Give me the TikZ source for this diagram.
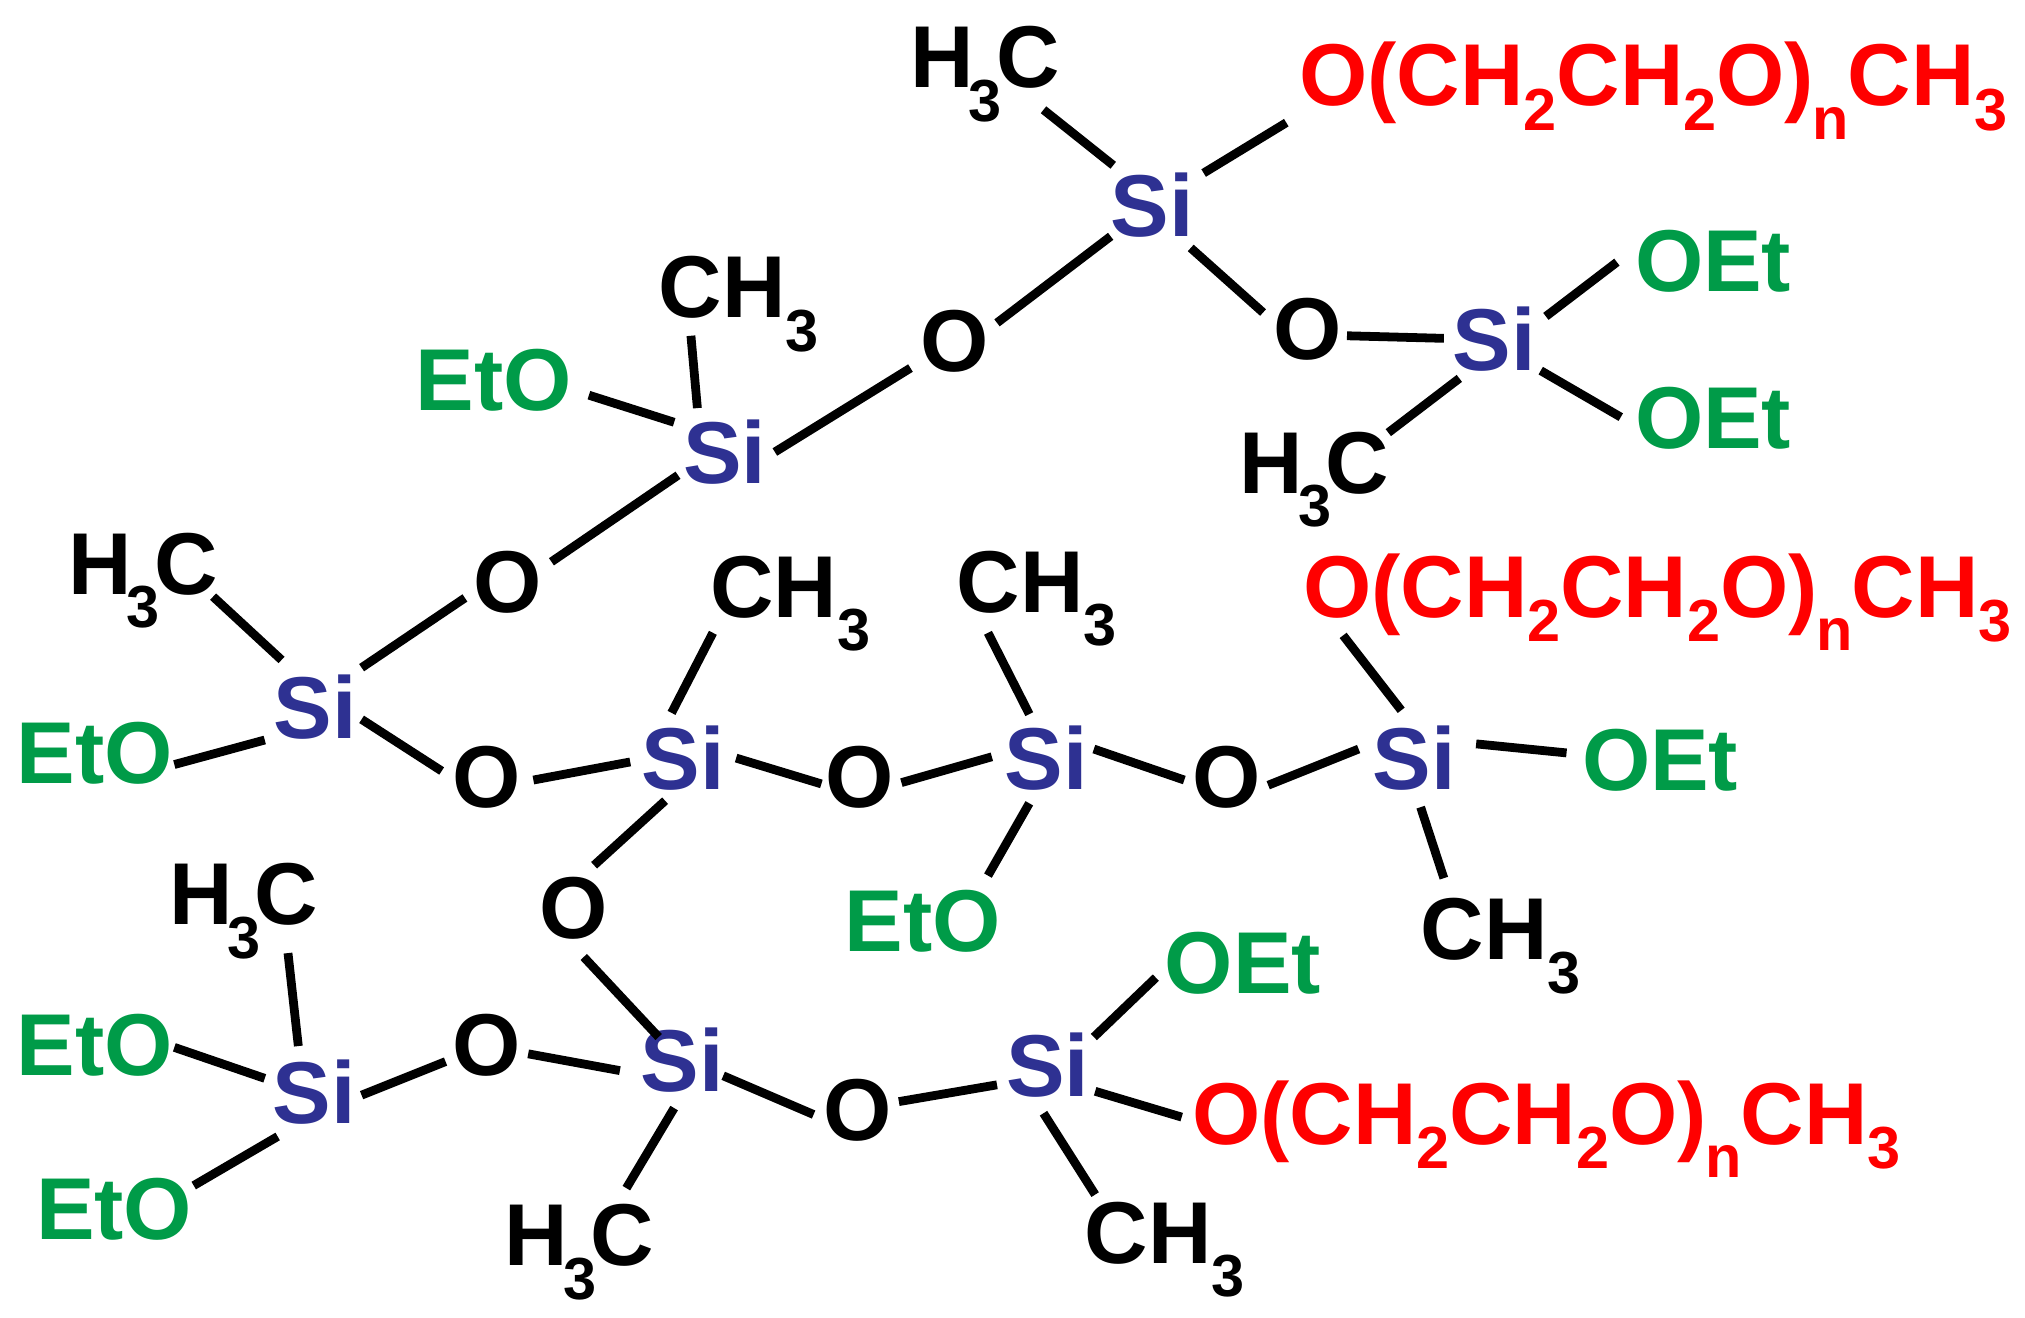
\documentclass[tikz,border=0pt]{standalone}
\usepackage{fontspec}
\setmainfont{Liberation Sans}[BoldFont={Liberation Sans Bold}]
\definecolor{sicol}{HTML}{2E3192}
\definecolor{etcol}{HTML}{009B48}
\definecolor{pegcol}{HTML}{FF0000}
\newcommand{\subs}[2]{\raisebox{#1}{\fontsize{23}{23}\selectfont #2}}
\newcommand{\hc}{H\kern-2pt\subs{-13pt}{3}\kern-2.2pt C}
\newcommand{\ch}{CH\subs{-13pt}{3}}
\newcommand{\peg}{O(CH\subs{-9.5pt}{2}CH\subs{-9.5pt}{2}O)\kern-0.5pt\subs{-13pt}{n}\kern-0.5pt CH\subs{-9.5pt}{3}}
\tikzset{
  atom/.style={anchor=base west,inner sep=0pt,outer sep=0pt,xshift=-1pt,font=\fontsize{34}{34}\selectfont\bfseries},
  blk/.style={atom,text=black},
  sil/.style={atom,text=sicol},
  eth/.style={atom,text=etcol},
  pegl/.style={atom,text=pegcol},
  bond/.style={draw=black,line width=3.4pt}
}
\newcommand{\bond}[4]{\draw[bond] ([shift={(#2)},xshift=1pt]#1.base west) -- ([shift={(#4)},xshift=1pt]#3.base west);}
\begin{document}
\begin{tikzpicture}[x=0.5pt,y=-0.5pt]
\useasboundingbox (0,0) rectangle (1568,1020.5);
\node[blk] (ha) at (707,68) {\hc};
\node[pegl] (ma) at (1008,82) {\peg};
\node[sil] (s1) at (862,183) {Si};
\node[eth] (ea) at (1268,226) {OEt};
\node[eth] (eb) at (1268,347) {OEt};
\node[blk] (o1) at (988,278) {O};
\node[sil] (s2) at (1127,287) {Si};
\node[blk] (hb) at (962,382) {\hc};
\node[blk] (o2) at (715,288) {O};
\node[blk] (cb) at (512,246) {\ch};
\node[eth] (ec) at (324,318) {EtO};
\node[sil] (s3) at (531,374) {Si};
\node[blk] (hcc) at (55,460) {\hc};
\node[blk] (o3) at (369,474) {O};
\node[blk] (cc) at (552,478) {\ch};
\node[blk] (cd) at (743,474) {\ch};
\node[pegl] (mb) at (1011,478) {\peg};
\node[sil] (s4) at (214,572) {Si};
\node[eth] (ed) at (15,607) {EtO};
\node[blk] (o4) at (352,625) {O};
\node[sil] (s5) at (499,611) {Si};
\node[blk] (o5) at (641,625) {O};
\node[sil] (s6) at (780,611) {Si};
\node[blk] (o6) at (925,625) {O};
\node[sil] (s7) at (1065,611) {Si};
\node[eth] (ee) at (1227,612) {OEt};
\node[eth] (ef) at (656,737) {EtO};
\node[blk] (ce) at (1102,743) {\ch};
\node[blk] (o7) at (420,727) {O};
\node[blk] (hd) at (133,716) {\hc};
\node[eth] (eg) at (904,769) {OEt};
\node[eth] (eh) at (15,833) {EtO};
\node[blk] (o8) at (352,833) {O};
\node[sil] (s8) at (213,870) {Si};
\node[sil] (s9) at (498,845) {Si};
\node[sil] (s10) at (781,849) {Si};
\node[blk] (o9) at (640,883) {O};
\node[pegl] (mc) at (925,886) {\peg};
\node[eth] (ei) at (30,960) {EtO};
\node[blk] (he) at (393,980) {\hc};
\node[blk] (cf) at (842,978) {\ch};
\bond{ha}{101,17}{s1}{0,-55}
\bond{s1}{70,-49}{ma}{-12,13}
\bond{s1}{-2,0}{o2}{57,-38}
\bond{s1}{60,9}{o1}{-10,-36}
\bond{o1}{55,-18}{s2}{-9,-25}
\bond{s2}{70,-42}{ea}{-16,-23}
\bond{s2}{66,0}{eb}{-13,-24}
\bond{s2}{3,6}{hb}{113,-47}
\bond{o2}{-10,-3}{s3}{69,-24}
\bond{cb}{23,14}{s3}{9,-58}
\bond{ec}{132,-12}{s3}{-9,-47}
\bond{s3}{-6,-6}{o3}{58,-39}
\bond{o3}{-9,-11}{s4}{66,-55}
\bond{hcc}{110,2}{s4}{4,-61}
\bond{ed}{120,-15}{s4}{-9,1}
\bond{s4}{66,-15}{o4}{-10,-28}
\bond{o4}{61,-21}{s5}{-11,-21}
\bond{cc}{0,12}{s5}{21,-59}
\bond{s5}{71,-24}{o5}{-5,-18}
\bond{o5}{57,-19}{s6}{-12,-25}
\bond{cd}{22,16}{s6}{17,-58}
\bond{s6}{67,-31}{o6}{-8,-21}
\bond{o6}{57,-17}{s7}{-13,-31}
\bond{mb}{29,14}{s7}{20,-61}
\bond{s7}{78,-35}{ee}{-14,-29}
\bond{s7}{35,14}{ce}{16,-63}
\bond{s6}{17,11}{ef}{109,-59}
\bond{s5}{16,9}{o7}{40,-57}
\bond{o7}{32,14}{s9}{12,-42}
\bond{hd}{90,22}{s8}{18,-60}
\bond{eh}{120,-22}{s8}{-8,-35}
\bond{ei}{120,-42}{s8}{2,10}
\bond{s8}{67,-22}{o8}{-7,-11}
\bond{o8}{57,-17}{s9}{-18,-16}
\bond{s9}{62,-12}{o9}{-10,-20}
\bond{o9}{56,-30}{s10}{-9,-9}
\bond{s10}{66,-46}{eg}{-9,-12}
\bond{s10}{67,-4}{mc}{-10,-21}
\bond{s9}{24,13}{he}{92,-60}
\bond{s10}{27,13}{cf}{6,-53}
\end{tikzpicture}
\end{document}
